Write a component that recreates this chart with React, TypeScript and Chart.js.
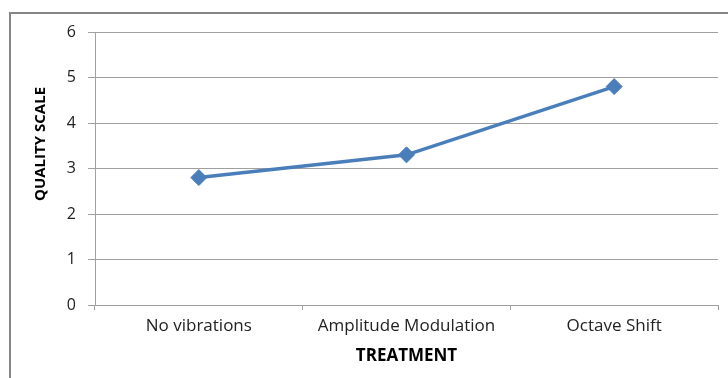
import React, { useEffect, useRef } from "react";
import { Chart, registerables } from "chart.js";

Chart.register(...registerables);

const categories = ["No vibrations", "Amplitude Modulation", "Octave Shift"];
const qualityValues = [2.8, 3.3, 4.8];
const yTicks = [0, 1, 2, 3, 4, 5, 6];
const yTitle = "QUALITY SCALE";

const FONT = "'Open Sans', 'Noto Sans', sans-serif";

const framePlugin = {
  id: "frame",
  beforeDraw(chart: any) {
    const ctx = chart.ctx;
    ctx.save();
    ctx.strokeStyle = "#868686";
    ctx.lineWidth = 2;
    ctx.beginPath();
    ctx.moveTo(10, 378);
    ctx.lineTo(10, 13);
    ctx.lineTo(728, 13);
    ctx.stroke();
    ctx.restore();
  },
  afterDraw(chart: any) {
    const ctx = chart.ctx;
    ctx.save();
    ctx.translate(41, 144);
    ctx.rotate(-Math.PI / 2);
    ctx.font = `bold 15px ${FONT}`;
    ctx.fillStyle = "#000";
    ctx.textAlign = "center";
    ctx.textBaseline = "middle";
    ctx.fillText(yTitle, 0, 0);
    ctx.restore();
  },
};

export default function App() {
  const ref = useRef<HTMLCanvasElement | null>(null);
  useEffect(() => {
    if (!ref.current) return;
    const chart = new Chart(ref.current, {
      type: "line",
      data: {
        labels: categories,
        datasets: [
          {
            data: qualityValues,
            borderColor: "#4A7EBB",
            backgroundColor: "#4A7EBB",
            borderWidth: 3.5,
            pointStyle: "rectRot",
            pointRadius: 8,
            pointBorderWidth: 1,
            tension: 0,
          },
        ],
      },
      options: {
        responsive: false,
        animation: false,
        layout: { padding: { top: 32, right: 10, left: 0, bottom: 0 } },
        plugins: { legend: { display: false }, tooltip: { enabled: false } },
        scales: {
          x: {
            offset: true,
            grid: {
              offset: true,
              drawOnChartArea: false,
              tickLength: 5,
              color: "#a0a0a0",
            },
            border: { color: "#a0a0a0" },
            ticks: {
              color: "#222",
              padding: 6,
              font: { family: FONT, size: 17 },
            },
            title: {
              display: true,
              text: "TREATMENT",
              color: "#000",
              font: { family: FONT, size: 17, weight: "bold" },
              padding: { top: 4, bottom: 12 },
            },
            afterFit(s: any) {
              s.height = 73;
            },
          },
          y: {
            min: 0,
            max: 6,
            afterBuildTicks(s: any) {
              s.ticks = yTicks.map((v) => ({ value: v }));
            },
            grid: { color: "#a0a0a0", tickLength: 7 },
            border: { color: "#a0a0a0" },
            ticks: {
              color: "#222",
              padding: 12,
              font: { family: FONT, size: 16 },
            },
            afterFit(s: any) {
              s.width = 95;
            },
          },
        },
      },
      plugins: [framePlugin],
    });
    return () => chart.destroy();
  }, []);
  return (
    <div style={{ position: "fixed", left: 0, top: 0, width: 728, height: 378, background: "#fff" }}>
      <canvas ref={ref} width={728} height={378} style={{ display: "block" }} />
    </div>
  );
}
